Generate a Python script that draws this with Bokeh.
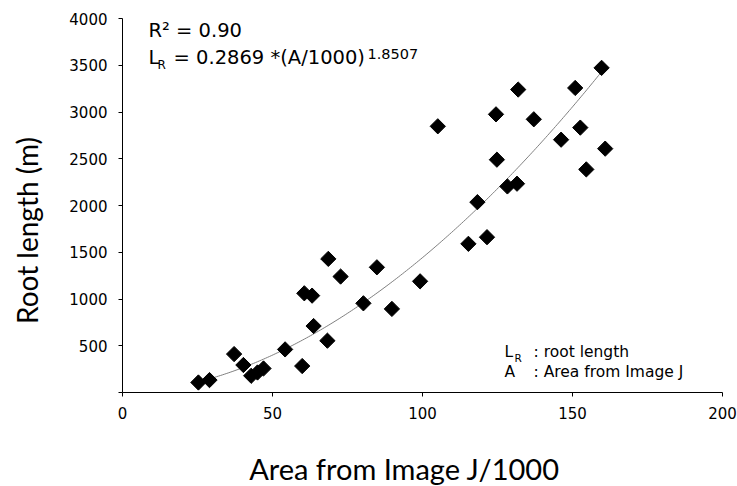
import numpy as np
from bokeh.plotting import figure
from bokeh.models import Range1d, FixedTicker, Label, LinearAxis
from bokeh.embed import file_html
from bokeh.resources import INLINE

# ---- data ----
area = [25.3, 29.0, 37.2, 40.3, 42.9, 45.0, 47.0, 54.2, 59.9, 60.6, 63.2, 63.7,
        68.3, 68.6, 72.7, 80.3, 84.8, 89.8, 99.2, 105.1, 115.3, 118.3, 121.5,
        124.5, 124.8, 128.3, 131.5, 131.9, 137.1, 146.2, 150.9, 152.6, 154.6,
        159.7, 160.9]
root_length = [107, 133, 411, 294, 179, 214, 257, 461, 283, 1061, 1036, 711,
               554, 1429, 1240, 954, 1339, 894, 1189, 2847, 1590, 2036, 1661,
               2975, 2490, 2204, 2233, 3240, 2922, 2704, 3257, 2833, 2386,
               3472, 2608]
x_ticks = [0, 50, 100, 150, 200]
y_ticks = [0, 500, 1000, 1500, 2000, 2500, 3000, 3500, 4000]
fit_coef = 0.2869
fit_exp = 1.8507
fit_x_start = 30
fit_x_end = 160
r2_text = "R\u00b2 = 0.90"
eq_text = "= 0.2869 *(A/1000)"
eq_sup = "1.8507"
x_title = "Area from Image J/1000"
y_title = "Root length (m)"

# ---- layout (pixel geometry of the plotting area) ----
W, H = 737, 486
LEFT, TOP, FW, FH = 122, 18, 600, 374
X0, X1, Y0, Y1 = 0, 200, 0, 4000
KX = (X1 - X0) / FW
KY = (Y1 - Y0) / FH


def dx(px):
    return X0 + (px - LEFT) * KX


def dy(py):
    return Y0 + (TOP + FH - py) * KY


# the whole canvas is the frame; axes are pinned at the data origin
p = figure(width=W, height=H,
           x_range=Range1d(dx(0), dx(W)), y_range=Range1d(dy(H), dy(0)),
           output_backend="svg", toolbar_location=None,
           x_axis_location=None, y_axis_location=None,
           min_border=0)
p.outline_line_color = None
p.grid.visible = False
p.background_fill_color = "white"
p.border_fill_color = "white"

xaxis = LinearAxis(fixed_location=Y0, bounds=(X0, X1),
                   ticker=FixedTicker(ticks=x_ticks))
yaxis = LinearAxis(fixed_location=X0, bounds=(Y0, Y1),
                   ticker=FixedTicker(ticks=y_ticks))
p.add_layout(xaxis, "below")
p.add_layout(yaxis, "left")
for ax in (xaxis, yaxis):
    ax.axis_line_color = "black"
    ax.axis_line_width = 1
    ax.major_tick_line_color = "black"
    ax.major_tick_in = 0
    ax.major_tick_out = 4
    ax.minor_tick_line_color = None
    ax.major_label_text_font = "DejaVu Sans"
    ax.major_label_text_font_size = "15px"
    ax.major_label_text_color = "black"
yaxis.major_label_overrides = {0: ""}
xaxis.major_label_standoff = 10
yaxis.major_label_standoff = 11

# fit curve from the stated equation
fx = np.linspace(fit_x_start, fit_x_end, 200)
fy = fit_coef * fx ** fit_exp
p.line(fx, fy, line_color="#808080", line_width=1)

# data points (black diamonds)
p.scatter(area, root_length, marker="square", angle=np.pi / 4, size=10.8,
          fill_color="black", line_color="black", line_width=1)


# text
def lab(px, py, text, size, font="DejaVu Sans", align="left", angle=0.0):
    shift = 0.38 * size
    p.add_layout(Label(x=dx(px), y=dy(py - shift), text=text, text_font=font,
                       text_font_size=f"{size}px", text_align=align,
                       text_baseline="alphabetic", text_color="black",
                       angle=angle))


lab(404, 479, x_title, 29, font="Lato", align="center")
p.add_layout(Label(x=dx(26), y=dy(230), text=y_title, text_font="Lato",
                   text_font_size="28px", text_align="center",
                   text_baseline="middle", text_color="black",
                   angle=np.pi / 2))

lab(148, 37, r2_text, 19.5)
lab(148, 64, "L", 19.5)
lab(157, 69, "R", 12)
lab(173, 64, eq_text, 19.5)
lab(367, 59, eq_sup, 14.5)

lab(504, 357, "L", 15.5)
lab(514, 361, "R", 10.5)
lab(533, 357, ": root length", 15.5)
lab(504, 377, "A", 15.5)
lab(533, 377, ": Area from Image J", 15.5)

open("out.html", "w").write(file_html(p, INLINE))
